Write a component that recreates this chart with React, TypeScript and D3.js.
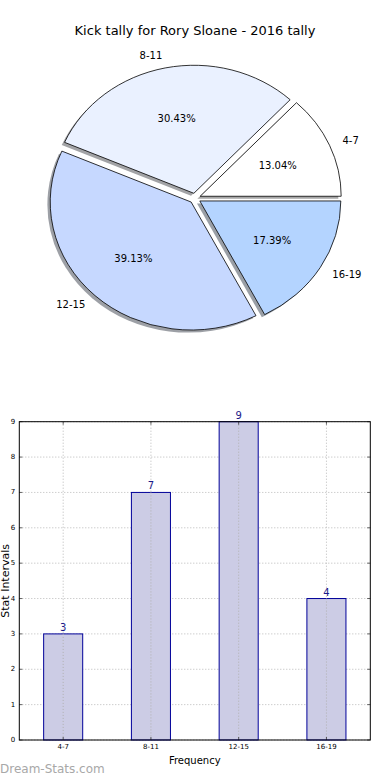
import React, { useEffect, useRef } from "react";
import * as d3 from "d3";

// kick tally per interval
const categories = ["4-7", "8-11", "12-15", "16-19"];
const kicks = [3, 7, 9, 4];
const pieColors = ["#ffffff", "#eaf1ff", "#c6d8ff", "#b4d4ff"];
const yTicks = [0, 1, 2, 3, 4, 5, 6, 7, 8, 9];

const W = 390;
const H = 780;
const FONT = "DejaVu Sans, sans-serif";

export default function App() {
  const ref = useRef<SVGSVGElement>(null);

  useEffect(() => {
    const svg = d3.select(ref.current);
    svg.selectAll("*").remove();

    svg
      .append("text")
      .attr("x", 195)
      .attr("y", 30)
      .attr("text-anchor", "middle")
      .attr("dominant-baseline", "central")
      .attr("font-size", 13)
      .text("Kick tally for Rory Sloane - 2016 tally");

    // ---- pie (matplotlib style, stretched axes)
    const cx = 195;
    const cy = 198.3;
    const rx = 141;
    const ry = 128;
    const explode = 0.04;
    const total = d3.sum(kicks);

    const pie = d3
      .pie<number>()
      .sort(null)
      .startAngle(Math.PI / 2)
      .endAngle(Math.PI / 2 - 2 * Math.PI);
    const arcs = pie(kicks);
    const arc = d3.arc<d3.PieArcDatum<number>>().innerRadius(0).outerRadius(1);

    const offset = (d: d3.PieArcDatum<number>, k: number) => {
      const m = (d.startAngle + d.endAngle) / 2;
      return [Math.sin(m) * k * rx, -Math.cos(m) * k * ry];
    };

    const shadow = svg.append("g");
    const wedges = svg.append("g");
    arcs.forEach((d, i) => {
      const [ox, oy] = offset(d, explode);
      const c = d3.rgb(pieColors[i]);
      shadow
        .append("path")
        .attr("d", arc(d))
        .attr(
          "transform",
          `translate(${cx + ox - 0.02 * rx},${cy + oy + 0.02 * ry}) scale(${rx},${ry})`
        )
        .attr("fill", d3.rgb(c.r * 0.3, c.g * 0.3, c.b * 0.3).toString())
        .attr("fill-opacity", 0.5);
      wedges
        .append("path")
        .attr("d", arc(d))
        .attr("transform", `translate(${cx + ox},${cy + oy}) scale(${rx},${ry})`)
        .attr("fill", pieColors[i])
        .attr("stroke", "#000")
        .attr("stroke-width", 0.8)
        .attr("vector-effect", "non-scaling-stroke");

      const [lx, ly] = offset(d, 1.1);
      wedges
        .append("text")
        .attr("x", cx + ox + lx)
        .attr("y", cy + oy + ly)
        .attr("text-anchor", lx > 0 ? "start" : "end")
        .attr("dominant-baseline", "central")
        .attr("font-size", 10)
        .text(categories[i]);

      const [px, py] = offset(d, 0.6);
      wedges
        .append("text")
        .attr("x", cx + ox + px)
        .attr("y", cy + oy + py)
        .attr("text-anchor", "middle")
        .attr("dominant-baseline", "central")
        .attr("font-size", 10)
        .text(`${((d.data / total) * 100).toFixed(2)}%`);
    });

    // ---- bar chart
    const left = 19.3;
    const right = 370.3;
    const top = 421.7;
    const bottom = 740;

    const x = d3.scaleBand().domain(categories).range([left, right]).padding(0);
    const y = d3.scaleLinear().domain([0, 9]).range([bottom, top]);
    const barW = x.bandwidth() * 0.445;
    const center = (c: string) => (x(c) as number) + x.bandwidth() / 2;

    const grid = svg.append("g").attr("stroke", "#b8b8b8").attr("stroke-dasharray", "1,2");
    yTicks.forEach((t) => {
      grid.append("line").attr("x1", left).attr("x2", right).attr("y1", y(t)).attr("y2", y(t));
    });
    categories.forEach((c) => {
      grid.append("line").attr("x1", center(c)).attr("x2", center(c)).attr("y1", top).attr("y2", bottom);
    });

    svg
      .append("g")
      .selectAll("rect")
      .data(kicks)
      .enter()
      .append("rect")
      .attr("x", (d, i) => center(categories[i]) - barW / 2)
      .attr("y", (d) => y(d))
      .attr("width", barW)
      .attr("height", (d) => bottom - y(d))
      .attr("fill", "#ccccE5")
      .attr("stroke", "#000099")
      .attr("stroke-width", 1);

    // grid shows through the bars
    const grid2 = svg.append("g").attr("stroke", "#b0b0b0").attr("stroke-dasharray", "1,2");
    kicks.forEach((v, i) => {
      const c = center(categories[i]);
      grid2.append("line").attr("x1", c).attr("x2", c).attr("y1", y(v)).attr("y2", bottom);
    });

    svg
      .append("g")
      .selectAll("text")
      .data(kicks)
      .enter()
      .append("text")
      .attr("x", (d, i) => center(categories[i]))
      .attr("y", (d) => y(d) - 3)
      .attr("text-anchor", "middle")
      .attr("font-size", 10)
      .attr("fill", "#1a1a8a")
      .text((d) => d);

    svg
      .append("rect")
      .attr("x", left)
      .attr("y", top)
      .attr("width", right - left)
      .attr("height", bottom - top)
      .attr("fill", "none")
      .attr("stroke", "#000")
      .attr("stroke-width", 1);

    const ticks = svg.append("g").attr("stroke", "#000").attr("stroke-width", 0.6);
    yTicks.forEach((t) => {
      ticks.append("line").attr("x1", left).attr("x2", left + 3).attr("y1", y(t)).attr("y2", y(t));
      ticks.append("line").attr("x1", right - 3).attr("x2", right).attr("y1", y(t)).attr("y2", y(t));
      svg
        .append("text")
        .attr("x", left - 4)
        .attr("y", y(t))
        .attr("text-anchor", "end")
        .attr("dominant-baseline", "central")
        .attr("font-size", 7)
        .text(t);
    });
    categories.forEach((c) => {
      ticks.append("line").attr("x1", center(c)).attr("x2", center(c)).attr("y1", bottom).attr("y2", bottom - 3);
      ticks.append("line").attr("x1", center(c)).attr("x2", center(c)).attr("y1", top).attr("y2", top + 3);
      svg
        .append("text")
        .attr("x", center(c))
        .attr("y", bottom + 7)
        .attr("text-anchor", "middle")
        .attr("dominant-baseline", "central")
        .attr("font-size", 7)
        .text(c);
    });

    svg
      .append("text")
      .attr("x", (left + right) / 2)
      .attr("y", 760)
      .attr("text-anchor", "middle")
      .attr("dominant-baseline", "central")
      .attr("font-size", 10)
      .text("Frequency");

    svg
      .append("text")
      .attr("transform", `translate(9,${(top + bottom) / 2}) rotate(-90)`)
      .attr("text-anchor", "middle")
      .attr("font-size", 11)
      .text("Stat Intervals");

    svg
      .append("text")
      .attr("x", 0)
      .attr("y", 769)
      .attr("dominant-baseline", "central")
      .attr("font-size", 12)
      .attr("fill", "#a8a8a8")
      .text("Dream-Stats.com");
  }, []);

  return (
    <svg
      ref={ref}
      width={W}
      height={H}
      style={{ position: "absolute", left: 0, top: 0, background: "#fff", fontFamily: FONT }}
    />
  );
}
